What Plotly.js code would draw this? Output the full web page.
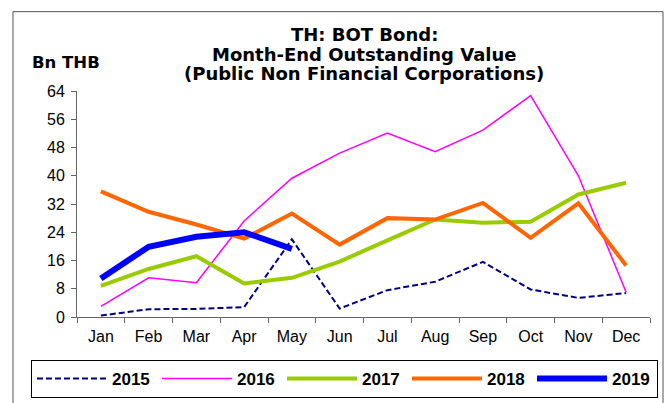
<!DOCTYPE html>
<html>
<head>
<meta charset="utf-8">
<script src="https://cdn.plot.ly/plotly-3.0.1.min.js"></script>
<style>html,body{margin:0;padding:0;background:#fff;}#chart{width:667px;height:403px;}</style>
</head>
<body>
<div id="chart"></div>
<script>
const months = ["Jan","Feb","Mar","Apr","May","Jun","Jul","Aug","Sep","Oct","Nov","Dec"];
const y2015 = [0.4, 2.2, 2.3, 2.8, 22.0, 2.4, 7.6, 10.0, 15.6, 7.8, 5.4, 6.8];
const y2016 = [3.0, 11.1, 9.7, 27.2, 39.3, 46.4, 52.1, 46.8, 52.9, 62.7, 40.0, 7.0];
const y2017 = [8.8, 13.6, 17.2, 9.5, 11.1, 15.7, 21.7, 27.6, 26.7, 27.0, 34.7, 38.0];
const y2018 = [35.6, 29.8, 26.2, 22.2, 29.3, 20.5, 28.0, 27.6, 32.3, 22.4, 32.2, 14.6];
const y2019 = [10.9, 19.9, 22.7, 24.0, 19.3];
const yTicks = [0, 8, 16, 24, 32, 40, 48, 56, 64];
const titleLines = ["TH: BOT Bond:", "Month-End Outstanding Value", "(Public Non Financial Corporations)"];
const unitLabel = "Bn THB";

const F = "Liberation Sans, Arial, sans-serif";
const FT = "DejaVu Sans, Liberation Sans, sans-serif";

const traces = [
  {name:"2015", x:months, y:y2015, mode:"lines", line:{color:"#000080", width:2, dash:"6px,3px"}},
  {name:"2016", x:months, y:y2016, mode:"lines", line:{color:"#FF00FF", width:1.5}},
  {name:"2017", x:months, y:y2017, mode:"lines", line:{color:"#99CC00", width:4}},
  {name:"2018", x:months, y:y2018, mode:"lines", line:{color:"#FF6600", width:4}},
  {name:"2019", x:months.slice(0, y2019.length), y:y2019, mode:"lines", line:{color:"#0000FF", width:6}}
];

const titleY = [1.249, 1.163, 1.077];
const annotations = titleLines.map((t, i) => ({
  text: "<b>" + t + "</b>", xref:"paper", yref:"paper", x:0.501, y:titleY[i],
  xanchor:"center", yanchor:"middle", showarrow:false,
  font:{family:FT, size:18, color:"#000"}
}));
annotations.push({
  text:"<b>" + unitLabel + "</b>", xref:"paper", yref:"paper", x:-0.0192, y:1.126,
  xanchor:"center", yanchor:"middle", showarrow:false,
  font:{family:FT, size:16.5, color:"#000"}
});

const layout = {
  width:667, height:403,
  margin:{l:77, r:17, t:91, b:86, pad:0, autoexpand:false},
  paper_bgcolor:"#ffffff", plot_bgcolor:"#ffffff",
  font:{family:F, size:16, color:"#000"},
  showlegend:true,
  legend:{orientation:"h", x:-0.0803, y:-0.19, xanchor:"left", yanchor:"top",
    bordercolor:"#000", borderwidth:1, bgcolor:"#fff",
    font:{family:F, size:17, color:"#000", weight:"bold"},
    entrywidth:40, itemwidth:70, tracegroupgap:0},
  xaxis:{type:"category", range:[-0.5, 11.5], showgrid:false, zeroline:false,
    showline:true, linecolor:"#666", linewidth:1,
    ticks:"outside", ticklen:5, tickcolor:"#666", tickson:"boundaries",
    ticklabelstandoff:5,
    tickfont:{family:F, size:16, color:"#000"}, fixedrange:true},
  yaxis:{range:[0, 64], tickvals:yTicks, showgrid:false, zeroline:false,
    showline:true, linecolor:"#666", linewidth:1,
    ticks:"outside", ticklen:5, tickcolor:"#666", ticklabelstandoff:3,
    tickfont:{family:F, size:16, color:"#000"}, fixedrange:true},
  shapes:[{type:"rect", xref:"paper", yref:"paper", x0:-0.1117, x1:1.0227, y0:-0.40, y1:1.351,
    line:{color:"#555", width:1}, fillcolor:"rgba(0,0,0,0)", layer:"below"}],
  annotations:annotations
};

Plotly.newPlot("chart", traces, layout, {displayModeBar:false, staticPlot:true});
</script>
</body>
</html>
